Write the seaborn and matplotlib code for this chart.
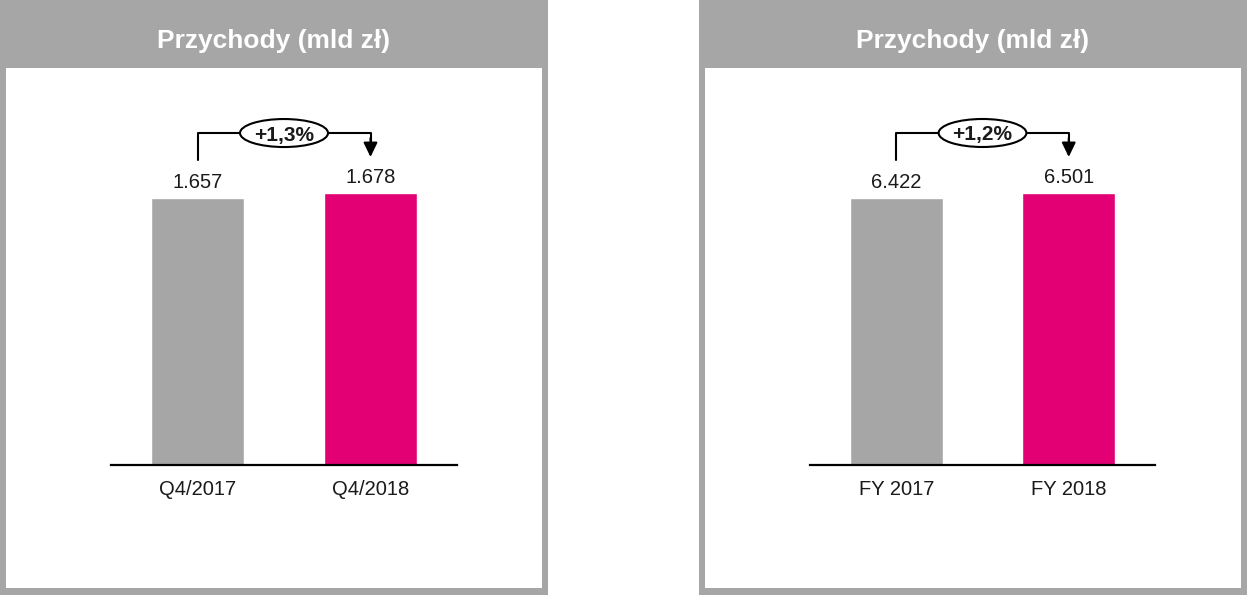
import matplotlib.pyplot as plt
import seaborn as sns
import pandas as pd
from matplotlib.patches import Rectangle, Ellipse

# dane
title = 'Przychody (mld zł)'
q_cats = ['Q4/2017', 'Q4/2018']
q_vals = [1.657, 1.678]
q_labels = ['1.657', '1.678']
q_change = '+1,3%'
fy_cats = ['FY 2017', 'FY 2018']
fy_vals = [6.422, 6.501]
fy_labels = ['6.422', '6.501']
fy_change = '+1,2%'

GREY = '#a6a6a6'
MAGENTA = '#e20074'
W, H = 1247, 595

sns.set_style('white')
plt.rcParams['font.family'] = ['Liberation Sans Narrow', 'Liberation Sans', 'DejaVu Sans']

fig = plt.figure(figsize=(W / 100, H / 100), dpi=100)


def px_rect(x0, y0, x1, y1, color):
    # prostokat w pikselach liczonych od lewego gornego rogu
    fig.add_artist(Rectangle((x0 / W, 1 - y1 / H), (x1 - x0) / W, (y1 - y0) / H,
                             transform=fig.transFigure, facecolor=color,
                             edgecolor='none', zorder=0))


def px_axes(x0, y0, x1, y1):
    return fig.add_axes([x0 / W, 1 - y1 / H, (x1 - x0) / W, (y1 - y0) / H])


def panel(x0, x1, ax_x0, ax_x1, cats, vals, labels, change, ylim):
    px_rect(x0, 0, x1, H, GREY)
    px_rect(x0 + 6, 68, x1 - 6, H - 7, 'white')
    fig.text((x0 + x1) / 2 / W, 1 - 48 / H, title, ha='center', va='baseline',
             color='white', fontsize=19, fontweight='bold')

    ax = px_axes(ax_x0, 100, ax_x1, 465)
    ax.patch.set_alpha(0)
    df = pd.DataFrame({'cat': cats, 'val': vals})
    sns.barplot(data=df, x='cat', y='val', hue='cat', palette=[GREY, MAGENTA],
                width=0.54, saturation=1, legend=False, ax=ax)
    ax.set_xlim(-0.5, 1.5)
    ax.set_ylim(*ylim)
    ax.set_yticks([])
    ax.set_xlabel('')
    ax.set_ylabel('')
    for s in ['top', 'left', 'right']:
        ax.spines[s].set_visible(False)
    ax.spines['bottom'].set_color('black')
    ax.spines['bottom'].set_linewidth(1.6)
    ax.tick_params(axis='x', length=0, pad=11, labelsize=14.5, labelcolor='#1a1a1a')

    k = (ylim[1] - ylim[0]) / 365  # jednostki danych na piksel
    for i, (v, lab) in enumerate(zip(vals, labels)):
        ax.text(i, v + 10 * k, lab, ha='center', va='baseline', fontsize=14.5,
                color='#1a1a1a')

    # klamra ze zmiana procentowa
    y_top = vals[0] + 65 * k
    y_start = vals[0] + 38 * k
    y_tip = vals[1] + 36 * k
    ax.plot([0, 0, 1, 1], [y_start, y_top, y_top, y_tip + 10 * k], color='black',
            lw=1.5, clip_on=False, zorder=2)
    ax.annotate('', xy=(1, y_tip), xytext=(1, y_top - 5 * k),
                arrowprops=dict(arrowstyle='-|>,head_width=0.3,head_length=0.62',
                                mutation_scale=14, color='black', lw=1.5,
                                shrinkA=0, shrinkB=0), zorder=2)
    ax.add_patch(Ellipse((0.5, y_top), 88 / 173, 28 * k, facecolor='white',
                         edgecolor='black', lw=1.5, zorder=3, clip_on=False))
    ax.text(0.5, y_top, change, ha='center', va='center_baseline', fontsize=15,
            fontweight='bold', color='#1a1a1a', zorder=4)


panel(0, 548, 111, 457, q_cats, q_vals, q_labels, q_change, (0.535, 2.069))
panel(699, W, 810, 1155, fy_cats, fy_vals, fy_labels, fy_change, (2.204, 7.97))

fig.savefig('out.png', dpi=100, facecolor='white')
